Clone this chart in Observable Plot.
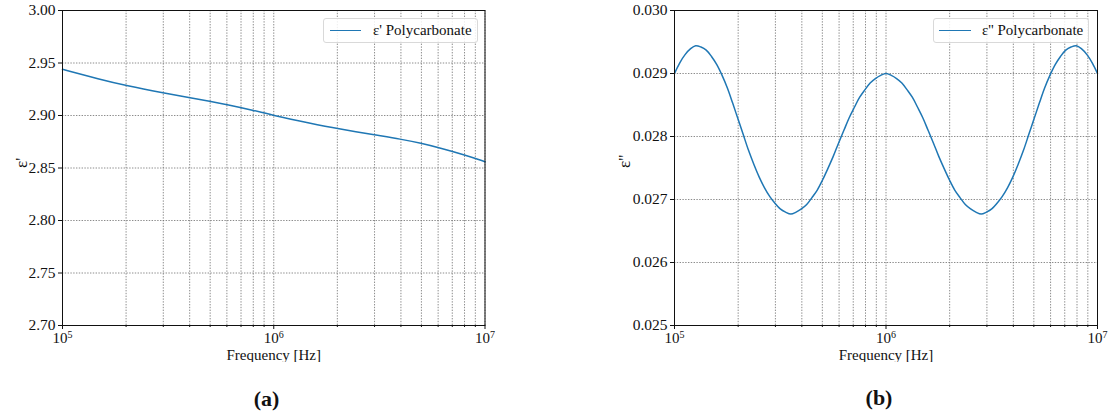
<!DOCTYPE html>
<html>
<head>
<meta charset="utf-8">
<script src="https://cdn.jsdelivr.net/npm/d3@7"></script>
<script src="https://cdn.jsdelivr.net/npm/@observablehq/plot@0.6"></script>
<style>
  html, body { margin: 0; padding: 0; background: white; }
  #root { position: relative; width: 1108px; height: 416px; font-family: "Liberation Serif", "Times New Roman", serif; overflow: hidden; }
  .panel { position: absolute; top: 0; }
  .legend { position: absolute; height: 25px; border: 1px solid #d9d9d9; border-radius: 3px; background: rgba(255,255,255,0.85); box-sizing: border-box; }
  .legend .swatch { position: absolute; top: 11px; height: 0; border-top: 1.5px solid #1f77b4; }
  .legend .lab { position: absolute; top: 2px; font-size: 15px; line-height: 18px; white-space: nowrap; color: #111; font-family: "Liberation Serif", serif; }
  .caption { position: absolute; font-weight: bold; font-size: 22px; color: #111; transform: translate(-50%, -50%); font-family: "Liberation Serif", serif; }
</style>
</head>
<body>
<div id="root"></div>
<script>
// ---- data ----
const freqA = [1e5, 1.5e5, 2e5, 3e5, 4e5, 5e5, 6e5, 8e5, 1e6, 1.5e6, 2e6, 3e6, 4e6, 5e6, 6e6, 8e6, 1e7];
const epsReal = [2.944, 2.9345, 2.9285, 2.9215, 2.917, 2.9135, 2.9105, 2.905, 2.900, 2.8925, 2.8875, 2.8815, 2.8775, 2.8735, 2.8695, 2.8625, 2.856];

// log10(frequency) positions of the ε'' samples
const logFreqB = [5.000, 5.025, 5.050, 5.075, 5.100, 5.125, 5.150, 5.175, 5.200, 5.225, 5.250, 5.275, 5.300, 5.325, 5.350, 5.375,
                  5.400, 5.425, 5.450, 5.475, 5.500, 5.525, 5.550, 5.575, 5.600, 5.625, 5.650, 5.675, 5.700, 5.725, 5.750, 5.775,
                  5.800, 5.825, 5.850, 5.875, 5.900, 5.925, 5.950, 5.975, 6.000,
                  6.025, 6.050, 6.075, 6.100, 6.125, 6.150, 6.175, 6.200, 6.225, 6.250, 6.275, 6.300, 6.325, 6.350, 6.375,
                  6.400, 6.425, 6.450, 6.475, 6.500, 6.525, 6.550, 6.575, 6.600, 6.625, 6.650, 6.675, 6.700, 6.725, 6.750, 6.775,
                  6.800, 6.825, 6.850, 6.875, 6.900, 6.925, 6.950, 6.975, 7.000];
const epsImag = [0.02900, 0.02917, 0.02930, 0.02939, 0.02944, 0.02942, 0.02937, 0.02927, 0.02914, 0.02897, 0.02877, 0.02853, 0.02828, 0.02803, 0.02778, 0.02756,
                 0.02736, 0.02719, 0.02705, 0.02694, 0.02685, 0.02680, 0.02677, 0.02680, 0.02685, 0.02692, 0.02703, 0.02715, 0.02731, 0.02749, 0.02768, 0.02789,
                 0.02809, 0.02829, 0.02846, 0.02862, 0.02874, 0.02885, 0.02892, 0.02897, 0.02900,
                 0.02897, 0.02892, 0.02885, 0.02874, 0.02862, 0.02846, 0.02829, 0.02809, 0.02789, 0.02768, 0.02749, 0.02731, 0.02715, 0.02703, 0.02692,
                 0.02685, 0.02680, 0.02677, 0.02680, 0.02685, 0.02694, 0.02705, 0.02719, 0.02736, 0.02756, 0.02778, 0.02803, 0.02828, 0.02853, 0.02877, 0.02897,
                 0.02914, 0.02927, 0.02937, 0.02942, 0.02944, 0.02939, 0.02930, 0.02917, 0.02900];

const xMajor = [1e5, 1e6, 1e7];
const xMinor = [2e5, 3e5, 4e5, 5e5, 6e5, 7e5, 8e5, 9e5, 2e6, 3e6, 4e6, 5e6, 6e6, 7e6, 8e6, 9e6];
const yTicksA = [2.70, 2.75, 2.80, 2.85, 2.90, 2.95, 3.00];
const yTicksB = [0.025, 0.026, 0.027, 0.028, 0.029, 0.030];

const xLabel = "Frequency [Hz]";
const yLabelA = "ε'";
const yLabelB = "ε''";
const legendA = "ε' Polycarbonate";
const legendB = "ε'' Polycarbonate";
const captions = ["(a)", "(b)"];

const FONT = '"Liberation Serif", "Times New Roman", serif';
const root = document.getElementById("root");

function panel({data, curve, yDomain, yTicks, yDigits, yLabel, left, width, marginLeft, marginRight, yLabelDx}) {
  const gridStyle = {stroke: "#6e6e6e", strokeOpacity: 1, strokeWidth: 0.8, strokeDasharray: "1.4,1.4"};
  const svg = Plot.plot({
    width, height: 362,
    marginTop: 10, marginBottom: 37, marginLeft, marginRight,
    style: `font-family: ${FONT}; font-size: 15px; color: #111; background: white;`,
    x: {type: "log", domain: [1e5, 1e7]},
    y: {domain: yDomain},
    marks: [
      Plot.gridX(xMinor.concat(xMajor), gridStyle),
      Plot.gridY(yTicks, gridStyle),
      Plot.line(data, {x: "f", y: "v", stroke: "#1f77b4", strokeWidth: 1.5, curve}),
      Plot.frame({stroke: "#111", strokeWidth: 1}),
      Plot.axisX({ticks: xMajor, tickSize: 4, tickPadding: 3, tickFormat: d => "10^" + Math.round(Math.log10(d)), label: null, fontSize: 15}),
      Plot.axisX({ticks: xMinor, tickSize: 2, tickFormat: () => "", label: null}),
      Plot.axisY({ticks: yTicks, tickSize: 4, tickPadding: 3, tickFormat: d => d.toFixed(yDigits), label: null, fontSize: 15.5}),
      Plot.text([xLabel], {frameAnchor: "bottom", dy: 34, fontSize: 15, fill: "#111"}),
      Plot.text([yLabel], {frameAnchor: "left", dx: yLabelDx, rotate: -90, fontSize: 17, fill: "#111"})
    ]
  });
  const s = d3.select(svg);
  s.attr("font-family", FONT);
  s.selectAll('g[aria-label="x-axis tick label"] text').each(function() {
    const t = this.textContent;
    if (t.includes("^")) {
      const [b, e] = t.split("^");
      this.textContent = "";
      const el = d3.select(this);
      el.append("tspan").text(b);
      el.append("tspan").attr("dy", "-0.5em").attr("font-size", "10px").text(e);
    }
  });
  s.selectAll("text").attr("font-family", FONT).style("font-family", FONT);
  svg.classList.add("panel");
  svg.style.left = left + "px";
  root.appendChild(svg);
}

panel({data: freqA.map((f, i) => ({f, v: epsReal[i]})), curve: "basis",
       yDomain: [2.70, 3.00], yTicks: yTicksA, yDigits: 2, yLabel: yLabelA,
       left: 0, width: 554, marginLeft: 62, marginRight: 69.5, yLabelDx: -41});
panel({data: logFreqB.map((lf, i) => ({f: Math.pow(10, lf), v: epsImag[i]})), curve: "catmull-rom",
       yDomain: [0.025, 0.030], yTicks: yTicksB, yDigits: 3, yLabel: yLabelB,
       left: 554, width: 554, marginLeft: 120, marginRight: 11, yLabelDx: -50});

function legend(x, w, sw0, sw1, tx, text) {
  const d = document.createElement("div");
  d.className = "legend";
  d.style.left = x + "px"; d.style.top = "18px"; d.style.width = w + "px";
  const s = document.createElement("div");
  s.className = "swatch"; s.style.left = (sw0 - x) + "px"; s.style.width = (sw1 - sw0) + "px";
  const l = document.createElement("div");
  l.className = "lab"; l.style.left = (tx - x) + "px"; l.textContent = text;
  d.appendChild(s); d.appendChild(l);
  root.appendChild(d);
}
legend(323, 155, 329, 360, 372, legendA);
legend(933, 156, 938, 970, 981, legendB);

[[266.5, 399], [879, 398]].forEach(([cx, cy], i) => {
  const c = document.createElement("div");
  c.className = "caption";
  c.style.left = cx + "px"; c.style.top = cy + "px";
  c.textContent = captions[i];
  root.appendChild(c);
});
</script>
</body>
</html>
